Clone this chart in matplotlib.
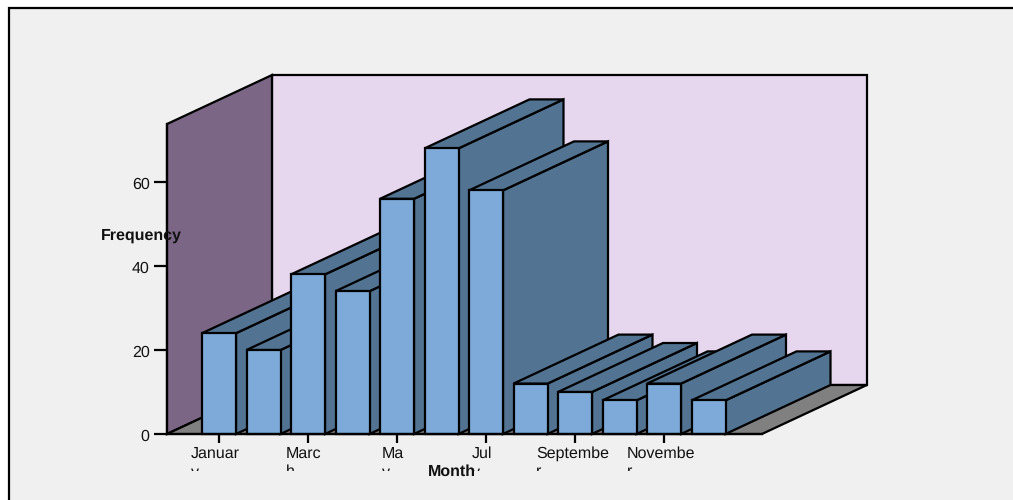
import matplotlib

matplotlib.use("Agg")
import matplotlib.pyplot as plt
from matplotlib.patches import Polygon, Rectangle
from matplotlib.transforms import Bbox, ScaledTranslation

plt.rcParams["font.family"] = ["Liberation Sans", "DejaVu Sans"]
plt.rcParams["text.hinting"] = "none"
plt.rcParams["text.hinting_factor"] = 1

counts = [24, 20, 38, 34, 56, 68, 58, 12, 10, 8, 12, 8]
freq_ticks = [0, 20, 40, 60]
# every second month gets a label, wrapped by the narrow label box
month_ticks = [0, 2, 4, 6, 8, 10]
month_labels = ["Januar\ny", "Marc\nh", "Ma\ny", "Jul\ny", "Septembe\nr", "Novembe\nr"]

FIG_W, FIG_H = 1013, 500
BAR_STEP = 44.5  # px per category
FREQ_PX = 4.2  # px per count
X0_PX, Y0_PX = 219, 434  # where category 0 / count 0 land

# box extents, in data units
X_LO, X_HI = -1.169, 12.2
Y_TOP = 73.8
DEPTH_X, DEPTH_Y = 105 / BAR_STEP, 49 / FREQ_PX
HALF_BAR = 17 / BAR_STEP

FRONT = "#7DAAD8"
SIDE = "#527391"
BACK_WALL = "#E6D6EE"
LEFT_WALL = "#7B6785"
FLOOR = "#808080"
LW = 1.6
TEXT = "#111111"
FONT_SIZE = 11.45


def box_faces(ax, x, h):
    left, right = x - HALF_BAR, x + HALF_BAR
    style = dict(edgecolor="black", linewidth=LW, joinstyle="miter", zorder=2)
    ax.add_patch(
        Polygon(
            [(right, 0), (right + DEPTH_X, DEPTH_Y), (right + DEPTH_X, h + DEPTH_Y), (right, h)],
            facecolor=SIDE,
            **style,
        )
    )
    ax.add_patch(
        Polygon(
            [(left, h), (left + DEPTH_X, h + DEPTH_Y), (right + DEPTH_X, h + DEPTH_Y), (right, h)],
            facecolor=SIDE,
            **style,
        )
    )
    ax.add_patch(Polygon([(left, 0), (right, 0), (right, h), (left, h)], facecolor=FRONT, **style))


fig = plt.figure(figsize=(FIG_W / 100, FIG_H / 100), dpi=100, facecolor="white")

# chart area frame runs off the right and bottom of the canvas
fig.add_artist(
    Rectangle(
        (8.5 / FIG_W, -0.1),
        1.1,
        0.1 + (FIG_H - 8) / FIG_H,
        transform=fig.transFigure,
        facecolor="#F0F0F0",
        edgecolor="black",
        linewidth=LW,
        zorder=-1,
    )
)

ax = fig.add_axes([0, 0, 1, 1], facecolor="none")
ax.set_xlim(-X0_PX / BAR_STEP, (FIG_W - X0_PX) / BAR_STEP)
ax.set_ylim((Y0_PX - FIG_H) / FREQ_PX, Y0_PX / FREQ_PX)

wall_style = dict(edgecolor="black", linewidth=LW, joinstyle="miter", zorder=1)
ax.add_patch(
    Polygon(
        [
            (X_LO + DEPTH_X, DEPTH_Y),
            (X_HI + DEPTH_X, DEPTH_Y),
            (X_HI + DEPTH_X, Y_TOP + DEPTH_Y),
            (X_LO + DEPTH_X, Y_TOP + DEPTH_Y),
        ],
        facecolor=BACK_WALL,
        **wall_style,
    )
)
ax.add_patch(
    Polygon(
        [(X_LO, 0), (X_LO + DEPTH_X, DEPTH_Y), (X_LO + DEPTH_X, Y_TOP + DEPTH_Y), (X_LO, Y_TOP)],
        facecolor=LEFT_WALL,
        **wall_style,
    )
)
ax.add_patch(
    Polygon(
        [(X_LO, 0), (X_HI, 0), (X_HI + DEPTH_X, DEPTH_Y), (X_LO + DEPTH_X, DEPTH_Y)],
        facecolor=FLOOR,
        **wall_style,
    )
)

# left to right so each bar covers the side of the previous one
for i, n in enumerate(counts):
    box_faces(ax, i, n)

for name, spine in ax.spines.items():
    spine.set_visible(name in ("left", "bottom"))
    spine.set_linewidth(LW)
ax.spines["left"].set_position(("data", X_LO))
ax.spines["left"].set_bounds(0, Y_TOP)
ax.spines["bottom"].set_position(("data", 0))
ax.spines["bottom"].set_bounds(X_LO, X_HI)

ax.set_yticks(freq_ticks)
ax.tick_params(axis="y", length=9.4, width=LW, pad=3, labelsize=FONT_SIZE, labelcolor=TEXT)
for lab in ax.get_yticklabels():
    lab.set_transform(lab.get_transform() + ScaledTranslation(0, -1 / 72, fig.dpi_scale_trans))

ax.set_xticks(month_ticks)
ax.set_xticklabels([])
ax.tick_params(axis="x", length=6.5, width=LW)

# labels are left aligned inside a box centred on the tick and cut off at its lower edge
renderer = fig.canvas.get_renderer()
clip = Bbox.from_extents(0, FIG_H - 471, FIG_W, FIG_H - 440)
for tick, label in zip(month_ticks, month_labels):
    probe = ax.text(0, 0, label.replace("\n", ""), fontsize=FONT_SIZE)
    word_w = probe.get_window_extent(renderer).width
    probe.remove()
    t = ax.annotate(
        label,
        xy=(tick, 0),
        xytext=(-word_w / 2, -12.5),
        textcoords="offset pixels",
        ha="left",
        va="top",
        fontsize=FONT_SIZE,
        color=TEXT,
        linespacing=1.3,
        annotation_clip=False,
    )
    t.set_clip_box(clip)
    t.set_clip_on(True)

ax.text(
    452 / FIG_W, 1 - 472 / FIG_H, "Month", transform=ax.transAxes,
    ha="center", va="center", fontsize=FONT_SIZE, fontweight="bold", color=TEXT, zorder=5,
)
ax.text(
    101 / FIG_W, 1 - 236 / FIG_H, "Frequency", transform=ax.transAxes,
    ha="left", va="center", fontsize=FONT_SIZE, fontweight="bold", color=TEXT, zorder=5,
)

fig.savefig("out.png", dpi=100)
